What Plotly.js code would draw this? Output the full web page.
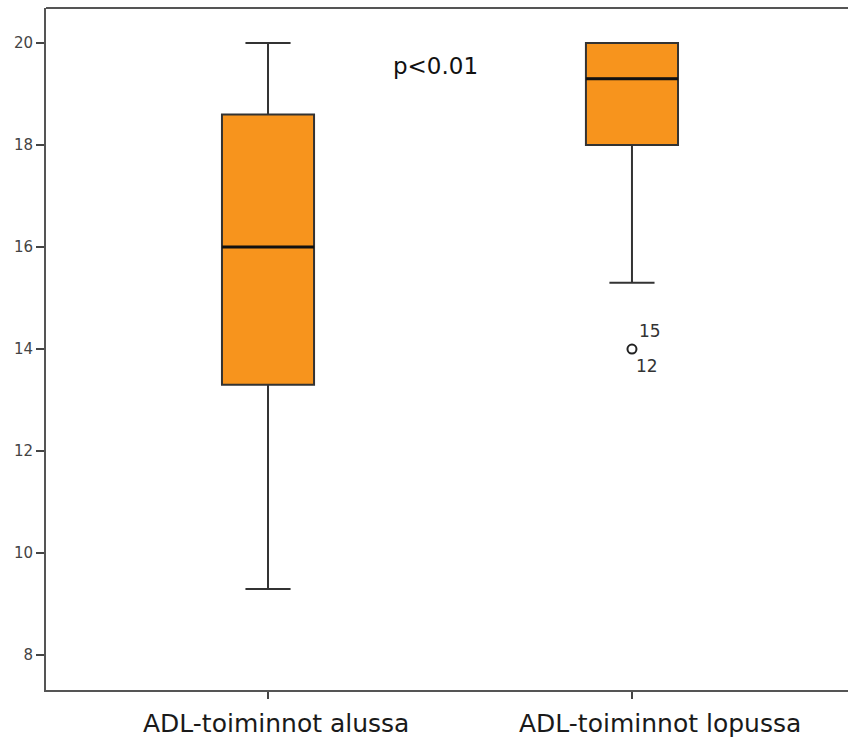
<!DOCTYPE html>
<html>
<head>
<meta charset="utf-8">
<script src="https://cdn.plot.ly/plotly-3.0.1.min.js"></script>
<style>html,body{margin:0;padding:0;background:#fff;overflow:hidden;width:848px;height:744px;}#chart{width:870px;height:744px;}</style>
</head>
<body>
<div id="chart"></div>
<script>
const categories = ["ADL-toiminnot alussa", "ADL-toiminnot lopussa"];
const lowerFence = [9.3, 15.3];
const q1Values = [13.3, 18.0];
const medianValues = [16.0, 19.3];
const q3Values = [18.6, 20.0];
const upperFence = [20.0, 20.0];
const outlierCategory = [1];
const outlierValues = [14.0];
const outlierCaseLabels = [["15", "12"]];
const yTicks = [8, 10, 12, 14, 16, 18, 20];
const pText = "p<0.01";

const xIdx = categories.map((c, i) => i);
const boxWidth = 0.253;
const categoryLabelShift = [8, 28];

const boxTrace = {
  type: "box",
  x: xIdx,
  q1: q1Values,
  median: medianValues,
  q3: q3Values,
  lowerfence: lowerFence,
  upperfence: upperFence,
  width: boxWidth,
  whiskerwidth: 0.49,
  fillcolor: "#f7941d",
  line: {color: "#333333", width: 2},
  boxpoints: false,
  hoverinfo: "none",
  showlegend: false
};

// thicker median lines, drawn from the median values through the axes
const medianTraces = xIdx.map((c, i) => ({
  type: "scatter",
  mode: "lines",
  x: [c - boxWidth / 2, c + boxWidth / 2],
  y: [medianValues[i], medianValues[i]],
  line: {color: "#111", width: 3},
  hoverinfo: "none",
  showlegend: false
}));

const outlierTrace = {
  type: "scatter",
  mode: "markers",
  x: outlierCategory,
  y: outlierValues,
  marker: {symbol: "circle-open", size: 9, color: "#222", line: {width: 2, color: "#222"}},
  hoverinfo: "none",
  showlegend: false
};

const annotations = [];
outlierCategory.forEach((c, i) => {
  annotations.push({x: c, y: outlierValues[i], xref: "x", yref: "y", text: outlierCaseLabels[i][0],
    showarrow: false, xanchor: "left", yanchor: "middle", xshift: 5, yshift: 18,
    font: {family: "DejaVu Sans, sans-serif", size: 17, color: "#333"}});
  annotations.push({x: c, y: outlierValues[i], xref: "x", yref: "y", text: outlierCaseLabels[i][1],
    showarrow: false, xanchor: "left", yanchor: "middle", xshift: 2, yshift: -17,
    font: {family: "DejaVu Sans, sans-serif", size: 17, color: "#333"}});
});
annotations.push({x: 0.459, y: 19.54, xref: "x", yref: "y", text: pText, showarrow: false,
  xanchor: "center", yanchor: "middle",
  font: {family: "DejaVu Sans, sans-serif", size: 23, color: "#111"}});
// category labels (offset to the right of their ticks, as in the original)
categories.forEach((c, i) => {
  annotations.push({x: i, y: 0, xref: "x", yref: "paper", text: c, showarrow: false,
    xanchor: "center", yanchor: "middle", xshift: categoryLabelShift[i], yshift: -33,
    font: {family: "DejaVu Sans, sans-serif", size: 25, color: "#1a1a1a"}});
});

const layout = {
  width: 870, height: 744,
  margin: {l: 46, r: 0, t: 8, b: 54, pad: 0},
  paper_bgcolor: "#fff", plot_bgcolor: "#fff",
  showlegend: false,
  xaxis: {
    range: [-0.61, 1.654],
    tickvals: xIdx, showticklabels: false,
    showline: true, linecolor: "#555", linewidth: 2, mirror: false,
    ticks: "outside", ticklen: 7, tickcolor: "#444", tickwidth: 2,
    showgrid: false, zeroline: false
  },
  yaxis: {
    range: [7.318, 20.685],
    tickvals: yTicks,
    showline: true, linecolor: "#555", linewidth: 2,
    ticks: "outside", ticklen: 8, tickcolor: "#444", tickwidth: 2,
    showgrid: false, zeroline: false,
    tickfont: {family: "DejaVu Sans, sans-serif", size: 15, color: "#444"}
  },
  shapes: [{type: "line", xref: "paper", yref: "paper", x0: 0, x1: 1, y0: 1, y1: 1,
    line: {color: "#555", width: 2}}],
  annotations: annotations
};

Plotly.newPlot("chart", [boxTrace].concat(medianTraces, [outlierTrace]), layout, {displayModeBar: false, staticPlot: true});
</script>
</body>
</html>
